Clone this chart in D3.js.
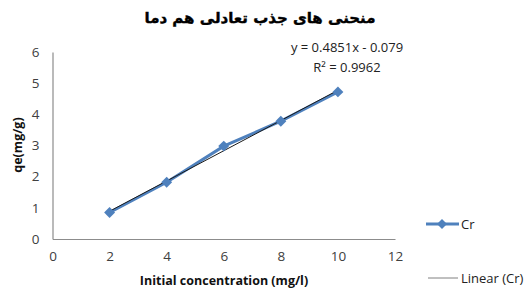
<!DOCTYPE html>
<html><head><meta charset="utf-8">
<script src="https://cdn.jsdelivr.net/npm/d3@7"></script>
<style>body{margin:0;background:#fff}svg{display:block}</style>
</head><body>
<svg id="c" width="526" height="292"></svg>
<script>
const title = "منحنی های جذب تعادلی هم دما";
const xValues = [2, 4, 6, 8, 10];
const crValues = [0.85, 1.82, 2.98, 3.78, 4.72];
const xTicks = [0, 2, 4, 6, 8, 10, 12];
const yTicks = [0, 1, 2, 3, 4, 5, 6];
const trendSlope = 0.4851, trendIntercept = -0.079;
const eqText = "y = 0.4851x - 0.079";
const r2Text = "R² = 0.9962";
const seriesName = "Cr";
const trendName = "Linear (Cr)";
const xTitle = "Initial concentration (mg/l)";
const yTitle = "qe(mg/g)";

const svg = d3.select("#c");
const font = "'Open Sans', 'Liberation Sans', sans-serif";
const x = d3.scaleLinear().domain([0, 12]).range([52.5, 395]);
const y = d3.scaleLinear().domain([0, 6]).range([239, 52]);
const blue = "#4F81BD";

svg.append("text").attr("x", 260).attr("y", 23).attr("text-anchor", "middle")
  .attr("font-family", "'DejaVu Sans', sans-serif").attr("font-weight", "bold")
  .attr("font-size", 15).attr("direction", "rtl").attr("fill", "#000")
  .attr("stroke", "#000").attr("stroke-width", 0.4).text(title);

// axes
const gx = svg.append("g").attr("transform", `translate(0,${y(0)})`)
  .call(d3.axisBottom(x).tickValues(xTicks).tickSize(0).tickPadding(12).tickFormat(d3.format("d")));
const gy = svg.append("g").attr("transform", `translate(${x(0)},0)`)
  .call(d3.axisLeft(y).tickValues(yTicks).tickSize(0).tickPadding(13).tickFormat(d3.format("d")));
[gx, gy].forEach(g => {
  g.select(".domain").attr("stroke", "#8c8c8c").attr("stroke-width", 1.2);
  g.selectAll("text").attr("font-family", font).attr("font-size", 13.5).attr("fill", "#404040");
});

// series line
const line = d3.line().x((d, i) => x(xValues[i])).y(d => y(d));
svg.append("path").datum(crValues).attr("d", line).attr("fill", "none")
  .attr("stroke", blue).attr("stroke-width", 3);
// trendline
const tx = [xValues[0], xValues[xValues.length - 1]];
svg.append("line").attr("x1", x(tx[0])).attr("y1", y(trendSlope * tx[0] + trendIntercept))
  .attr("x2", x(tx[1])).attr("y2", y(trendSlope * tx[1] + trendIntercept))
  .attr("stroke", "#1a1a1a").attr("stroke-width", 1);
// markers
svg.selectAll(".m").data(crValues).enter().append("path")
  .attr("d", d3.symbol().type(d3.symbolSquare).size(60)())
  .attr("transform", (d, i) => `translate(${x(xValues[i])},${y(d)}) rotate(45)`)
  .attr("fill", blue);

// equation
svg.append("text").attr("x", 347).attr("y", 52).attr("text-anchor", "middle")
  .attr("font-family", font).attr("font-size", 13).attr("fill", "#222").text(eqText);
svg.append("text").attr("x", 347).attr("y", 72).attr("text-anchor", "middle")
  .attr("font-family", font).attr("font-size", 13).attr("fill", "#222").text(r2Text);

// axis titles
svg.append("text").attr("x", 224).attr("y", 285).attr("text-anchor", "middle")
  .attr("font-family", font).attr("font-weight", "bold").attr("font-size", 12.5).attr("fill", "#111").text(xTitle);
svg.append("text").attr("transform", "translate(22,145) rotate(-90)").attr("text-anchor", "middle")
  .attr("font-family", font).attr("font-weight", "bold").attr("font-size", 12.5).attr("fill", "#111").text(yTitle);

// legend
const lg = svg.append("g");
lg.append("line").attr("x1", 426).attr("x2", 459).attr("y1", 224).attr("y2", 224)
  .attr("stroke", blue).attr("stroke-width", 3);
lg.append("path").attr("d", d3.symbol().type(d3.symbolSquare).size(50)())
  .attr("transform", "translate(442,224) rotate(45)").attr("fill", blue);
lg.append("text").attr("x", 461).attr("y", 229).attr("font-family", font).attr("font-size", 13)
  .attr("fill", "#222").text(seriesName);
lg.append("line").attr("x1", 428).attr("x2", 458).attr("y1", 278).attr("y2", 278)
  .attr("stroke", "#808080").attr("stroke-width", 1);
lg.append("text").attr("x", 461).attr("y", 283).attr("font-family", font).attr("font-size", 13)
  .attr("fill", "#222").text(trendName);
</script>
</body></html>
